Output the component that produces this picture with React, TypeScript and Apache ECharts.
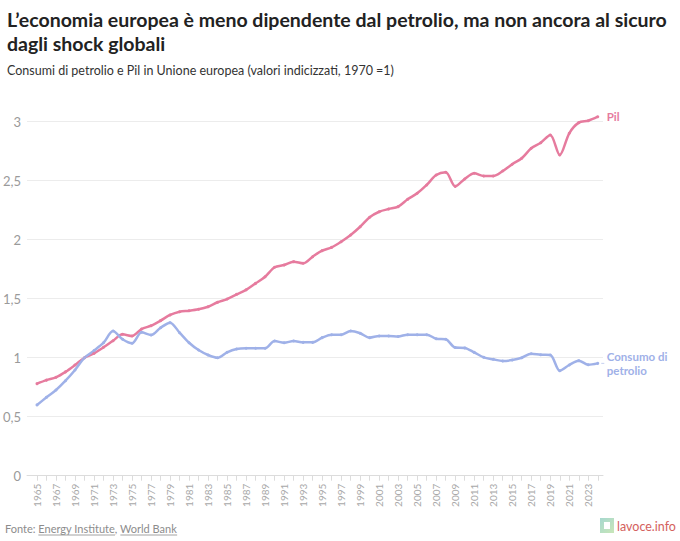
import React, { useEffect, useRef } from "react";
import * as echarts from "echarts";

const years = [
  1965, 1966, 1967, 1968, 1969, 1970, 1971, 1972, 1973, 1974,
  1975, 1976, 1977, 1978, 1979, 1980, 1981, 1982, 1983, 1984,
  1985, 1986, 1987, 1988, 1989, 1990, 1991, 1992, 1993, 1994,
  1995, 1996, 1997, 1998, 1999, 2000, 2001, 2002, 2003, 2004,
  2005, 2006, 2007, 2008, 2009, 2010, 2011, 2012, 2013, 2014,
  2015, 2016, 2017, 2018, 2019, 2020, 2021, 2022, 2023, 2024,
];

const labelYears = [
  1965, 1967, 1969, 1971, 1973, 1975, 1977, 1979, 1981, 1983,
  1985, 1987, 1989, 1991, 1993, 1995, 1997, 1999, 2001, 2003,
  2005, 2007, 2009, 2011, 2013, 2015, 2017, 2019, 2021, 2023,
];

const pil = [
  0.78, 0.81, 0.834, 0.88, 0.938, 1.0, 1.037, 1.088, 1.144, 1.198,
  1.184, 1.243, 1.271, 1.314, 1.362, 1.39, 1.398, 1.41, 1.432, 1.47,
  1.497, 1.537, 1.575, 1.63, 1.686, 1.766, 1.786, 1.814, 1.8, 1.856,
  1.907, 1.935, 1.983, 2.04, 2.11, 2.19, 2.237, 2.26, 2.28, 2.342,
  2.393, 2.464, 2.548, 2.571, 2.452, 2.515, 2.563, 2.54, 2.54, 2.582,
  2.64, 2.69, 2.775, 2.822, 2.887, 2.718, 2.902, 2.992, 3.008, 3.042,
];

const petrolio = [
  0.6, 0.664, 0.726, 0.805, 0.896, 1.0, 1.06, 1.127, 1.226, 1.156,
  1.122, 1.215, 1.192, 1.254, 1.297, 1.212, 1.127, 1.065, 1.023, 1.0,
  1.046, 1.074, 1.08, 1.08, 1.08, 1.141, 1.127, 1.141, 1.13, 1.13,
  1.17, 1.195, 1.195, 1.226, 1.207, 1.17, 1.184, 1.184, 1.18, 1.195,
  1.195, 1.195, 1.161, 1.156, 1.086, 1.083, 1.045, 1.003, 0.986, 0.972,
  0.98, 1.0, 1.034, 1.025, 1.023, 0.89, 0.938, 0.975, 0.94, 0.952,
];

const yTicks = [0, 0.5, 1, 1.5, 2, 2.5, 3];

const PINK = "#e67b9e";
const BLUE = "#9fb1e8";
const FONT = "Lato, 'Noto Sans', sans-serif";

function measure(text: string, font: string): number {
  const c = document.createElement("canvas");
  const ctx = c.getContext("2d");
  if (!ctx) return text.length * 6;
  ctx.font = font;
  return ctx.measureText(text).width;
}

function makeSeries(name: string, values: number[], color: string, label: string) {
  const last = values.length - 1;
  return {
    name,
    type: "line",
    data: values.map((v, i) => [years[i], v]),
    smooth: 0.3,
    clip: false,
    symbol: "circle",
    symbolSize: 3,
    showSymbol: true,
    lineStyle: { color, width: 2.5 },
    itemStyle: { color },
    endLabel: {
      show: true,
      formatter: label,
      color,
      fontFamily: FONT,
      fontWeight: "bold",
      fontSize: 11.5,
      lineHeight: 14,
      distance: 9,
    },
    markPoint: {
      symbol: "rect",
      symbolSize: [3, 1],
      symbolOffset: [5, 0],
      itemStyle: { color, opacity: 0.6 },
      label: { show: false },
      data: [{ coord: [years[last], values[last]] }],
    },
  };
}

export default function App() {
  const ref = useRef<HTMLDivElement>(null);

  useEffect(() => {
    document.body.style.margin = "0";
    if (!ref.current) return;
    const chart = echarts.init(ref.current, undefined, { renderer: "svg" });

    const footFont = `11px ${FONT}`;
    const wFonte = measure("Fonte: ", footFont);
    const wEI = measure("Energy Institute", footFont);
    const wComma = measure(", ", footFont);
    const wWB = measure("World Bank", footFont);
    const fx = 5;
    const fy = 528;
    const footColor = "#8c8c8c";

    chart.setOption({
      animation: false,
      backgroundColor: "#ffffff",
      grid: { left: 27, right: 77, top: 121.7, bottom: 65.3, containLabel: false },
      xAxis: {
        type: "value",
        min: 1963.95,
        max: 2024.55,
        axisLine: { show: true, lineStyle: { color: "#dcdcdc", width: 1 } },
        axisTick: {
          show: true,
          length: 5,
          lineStyle: { color: "#dcdcdc" },
          customValues: years,
        },
        axisLabel: {
          show: true,
          rotate: 90,
          customValues: labelYears,
          formatter: (v: number) => String(v),
          color: "#a8a8a8",
          fontFamily: FONT,
          fontSize: 10,
          margin: 8,
        },
        splitLine: { show: false },
      },
      yAxis: {
        type: "value",
        min: 0,
        max: 3,
        interval: 0.5,
        axisLine: { show: false },
        axisTick: { show: false },
        axisLabel: {
          color: "#9a9a9a",
          fontFamily: FONT,
          fontSize: 13,
          margin: 6,
          customValues: yTicks,
          formatter: (v: number) => String(v).replace(".", ","),
        },
        splitLine: { show: true, lineStyle: { color: "#ececec", width: 1 } },
      },
      series: [
        makeSeries("Pil", pil, PINK, "Pil"),
        makeSeries("Consumo di petrolio", petrolio, BLUE, "Consumo di\npetrolio"),
      ],
      graphic: [
        {
          type: "text",
          left: 7,
          top: 7,
          style: {
            text: "L’economia europea è meno dipendente dal petrolio, ma non ancora al sicuro\ndagli shock globali",
            font: `bold 19.5px ${FONT}`,
            fill: "#222222",
            lineHeight: 24,
          },
        },
        {
          type: "text",
          left: 7,
          top: 64,
          style: {
            text: "Consumi di petrolio e Pil in Unione europea (valori indicizzati, 1970 =1)",
            font: `12.5px ${FONT}`,
            fill: "#333333",
          },
        },
        {
          type: "text",
          x: fx,
          y: fy,
          style: {
            text: "Fonte: Energy Institute, World Bank",
            font: footFont,
            fill: footColor,
            verticalAlign: "middle",
          },
        },
        {
          type: "line",
          shape: { x1: fx + wFonte, y1: fy + 7, x2: fx + wFonte + wEI, y2: fy + 7 },
          style: { stroke: footColor, lineWidth: 0.8 },
        },
        {
          type: "line",
          shape: {
            x1: fx + wFonte + wEI + wComma,
            y1: fy + 7,
            x2: fx + wFonte + wEI + wComma + wWB,
            y2: fy + 7,
          },
          style: { stroke: footColor, lineWidth: 0.8 },
        },
        {
          type: "rect",
          shape: { x: 600, y: 518, width: 14, height: 15 },
          style: {
            fill: new echarts.graphic.LinearGradient(0, 0, 1, 1, [
              { offset: 0, color: "#a6d8cf" },
              { offset: 1, color: "#c9e6b8" },
            ]),
          },
        },
        {
          type: "rect",
          shape: { x: 604, y: 522, width: 6, height: 7 },
          style: { fill: "#ffffff" },
        },
        {
          type: "text",
          x: 617,
          y: 526,
          style: {
            text: "lavoce.info",
            font: `12.5px ${FONT}`,
            fill: "#d4615d",
            verticalAlign: "middle",
          },
        },
      ],
    });

    return () => {
      chart.dispose();
    };
  }, []);

  return <div ref={ref} style={{ width: 680, height: 541 }} />;
}
